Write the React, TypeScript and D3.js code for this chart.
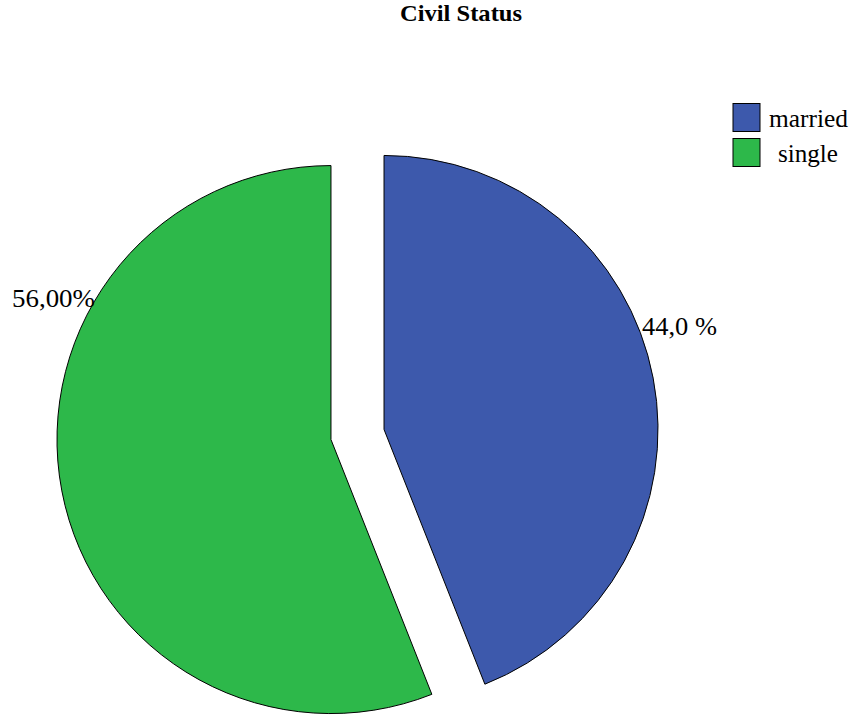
import React from "react";
import * as d3 from "d3";

const categories = ["married", "single"];
const values = [44, 56];
const labels = ["44,0 %", "56,00%"];
const colors = ["#3d59ac", "#2db84a"];
const title = "Civil Status";

export default function App() {
  const W = 854, H = 718;
  const cx = 357.5, cy = 434.5, r = 274, explode = 27;
  const pie = d3.pie<number>().sort(null).value((d) => d)(values);
  const arc = d3.arc<d3.PieArcDatum<number>>().innerRadius(0).outerRadius(r);
  const labelPos: [number, number, number][] = [
    [642, 335, 75],
    [12, 306.5, 83],
  ];
  const legendX = [769, 778];
  const legendLen = [79, 60];
  return (
    <svg width={W} height={H} style={{ position: "absolute", left: 0, top: 0, background: "#fff" }}>
      <text x={400} y={21} fontFamily="Liberation Serif" fontWeight="bold" fontSize={24} textLength={122} lengthAdjust="spacingAndGlyphs">{title}</text>
      {pie.map((p, i) => {
        const mid = (p.startAngle + p.endAngle) / 2;
        const dx = Math.sin(mid) * explode, dy = -Math.cos(mid) * explode;
        return (
          <path key={i} d={arc(p) || ""} transform={`translate(${cx + dx},${cy + dy})`} fill={colors[i]} stroke="#000" strokeWidth={1} />
        );
      })}
      {pie.map((p, i) => (
        <text key={"l" + i} x={labelPos[i][0]} y={labelPos[i][1]} fontFamily="Liberation Serif" fontSize={26} textLength={labelPos[i][2]} lengthAdjust="spacingAndGlyphs">{labels[i]}</text>
      ))}
      {categories.map((c, i) => (
        <g key={c}>
          <rect x={733} y={103.5 + i * 35} width={27} height={28} fill={colors[i]} stroke="#000" strokeWidth={1} />
          <text x={legendX[i]} y={126.7 + i * 35} fontFamily="Liberation Serif" fontSize={26} textLength={legendLen[i]} lengthAdjust="spacingAndGlyphs">{c}</text>
        </g>
      ))}
    </svg>
  );
}
